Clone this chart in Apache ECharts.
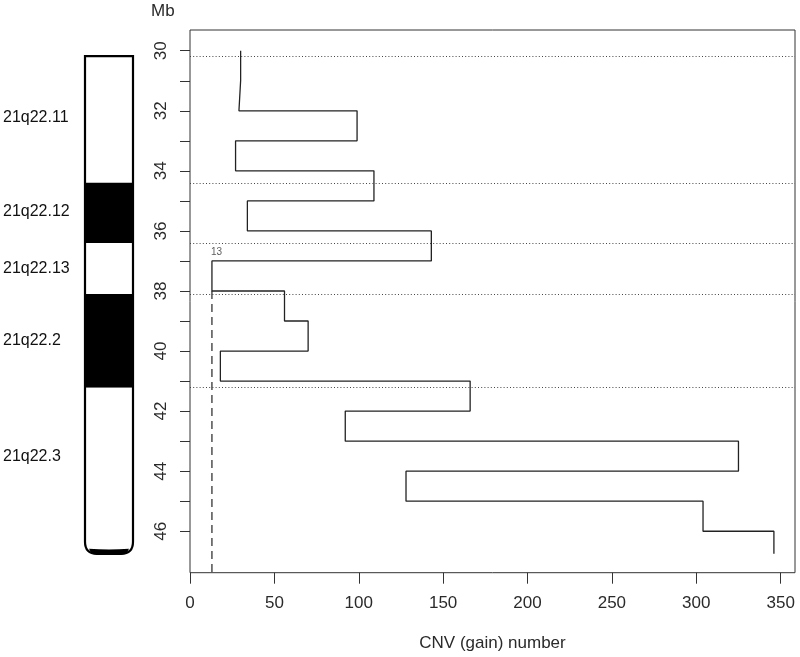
<!DOCTYPE html>
<html>
<head>
<meta charset="utf-8">
<script src="https://cdn.jsdelivr.net/npm/echarts@6/dist/echarts.min.js"></script>
<style>
html,body{margin:0;padding:0;background:#fff;}
#chart{width:800px;height:657px;}
</style>
</head>
<body>
<div id="chart"></div>
<script>
// ---- data ----
const binStarts = [30,31,32,33,34,35,36,37,38,39,40,41,42,43,44,45,46];
const binEnds   = [31,32,33,34,35,36,37,38,39,40,41,42,43,44,45,46,46.75];
const cnvGain   = [30,29,99,27,109,34,143,13,56,70,18,166,92,325,128,304,346];
const threshold = 13;
const thresholdFrom = 38;

const bandNames  = ['21q22.11','21q22.12','21q22.13','21q22.2','21q22.3'];
const bandStarts = [30.18, 34.4, 36.4, 38.1, 41.22];
const bandEnds   = [34.4, 36.4, 38.1, 41.22, 46.75];
const bandStains = ['gneg','gpos','gneg','gpos','gneg'];
const bandLabelAt = [32.24, 35.37, 37.25, 39.64, 43.53];

const xTicks = [0,50,100,150,200,250,300,350];
const yTicks = [30,31,32,33,34,35,36,37,38,39,40,41,42,43,44,45,46];
const yLabels = [30,32,34,36,38,40,42,44,46];

const yMin = 29.31, yMax = 47.38, xMax = 358.5;

// ---- build step path ----
const stepData = [];
for (let i = 0; i < cnvGain.length; i++) {
  stepData.push([cnvGain[i], binStarts[i]]);
  stepData.push([cnvGain[i], binEnds[i]]);
}

const FONT = 'Liberation Sans, Arial, sans-serif';
const TXT = '#2a2a2a';

const chart = echarts.init(document.getElementById('chart'), null, {renderer: 'canvas'});

const option = {
  animation: false,
  backgroundColor: '#fff',
  grid: [
    {left: 190, right: 5, top: 30, bottom: 84.3, show: true, borderColor: '#333', borderWidth: 1, backgroundColor: 'transparent'},
    {left: 85, width: 48, top: 30, bottom: 84.3, show: false}
  ],
  graphic: [
    {type: 'text', left: 151, top: 3, style: {text: 'Mb', font: '17px ' + FONT, fill: TXT}}
  ],
  xAxis: [
    {
      type: 'value', gridIndex: 0, min: 0, max: xMax,
      splitLine: {show: false},
      axisLine: {show: false},
      axisTick: {show: true, length: 11, lineStyle: {color: '#333'}, customValues: xTicks},
      axisLabel: {show: true, margin: 22, fontSize: 17, fontFamily: FONT, color: TXT, customValues: xTicks},
      name: 'CNV (gain) number', nameLocation: 'middle', nameGap: 62,
      nameTextStyle: {fontSize: 17, fontFamily: FONT, color: TXT}
    },
    {type: 'value', gridIndex: 1, min: 0, max: 1, show: false}
  ],
  yAxis: [
    {
      type: 'value', gridIndex: 0, min: yMin, max: yMax, inverse: true,
      splitLine: {show: false},
      axisLine: {show: false},
      axisTick: {show: true, length: 10, lineStyle: {color: '#333'}, customValues: yTicks},
      axisLabel: {show: true, rotate: 90, margin: 20, fontSize: 17, fontFamily: FONT, color: TXT, customValues: yLabels}
    },
    {type: 'value', gridIndex: 1, min: yMin, max: yMax, inverse: true, show: false}
  ],
  series: [
    {
      type: 'line', xAxisIndex: 0, yAxisIndex: 0,
      data: stepData, symbol: 'none', silent: true,
      lineStyle: {color: '#222', width: 1.3},
      markLine: {
        silent: true, symbol: 'none', label: {show: false},
        lineStyle: {color: '#444', width: 1, type: [1, 2.2]},
        data: bandStarts.map(v => ({yAxis: v}))
      },
      z: 3
    },
    {
      type: 'line', xAxisIndex: 0, yAxisIndex: 0,
      data: [[threshold, thresholdFrom], [threshold, yMax]],
      symbol: 'none', silent: true,
      lineStyle: {color: '#222', width: 1.2, type: [8, 5]},
      z: 2
    },
    {
      type: 'scatter', xAxisIndex: 0, yAxisIndex: 0,
      data: [[threshold, binStarts[cnvGain.indexOf(threshold)]]],
      symbolSize: 0, silent: true,
      label: {show: true, formatter: String(threshold), position: [-1, -14], align: 'left', verticalAlign: 'top',
              fontSize: 10, fontFamily: FONT, color: '#333'}
    },
    {
      // chromosome bands
      type: 'custom', xAxisIndex: 1, yAxisIndex: 1, silent: true, clip: false,
      data: bandNames.map((n, i) => [bandStarts[i], bandEnds[i], bandStains[i] === 'gpos' ? 1 : 0, bandLabelAt[i], n]),
      renderItem: function (params, api) {
        const s = api.value(0), e = api.value(1), pos = api.value(2), lab = api.value(3);
        const i = params.dataIndex;
        const p1 = api.coord([0, s]), p2 = api.coord([1, e]);
        const x0 = p1[0], x1 = p2[0], y0 = p1[1], y1 = p2[1];
        const isLast = i === bandNames.length - 1;
        const children = [];
        children.push({
          type: 'rect',
          shape: {x: x0, y: y0, width: x1 - x0, height: y1 - y0, r: isLast ? [0, 0, 11, 11] : 0},
          style: {fill: pos ? '#000' : '#fff', stroke: null}
        });
        const ly = api.coord([0, lab])[1];
        children.push({
          type: 'text',
          style: {text: bandNames[i], x: x0 - 82, y: ly, font: '16px ' + FONT, fill: '#111', textAlign: 'left', textVerticalAlign: 'middle'}
        });
        return {type: 'group', children: children};
      },
      z: 2
    },
    {
      // chromosome outline
      type: 'custom', xAxisIndex: 1, yAxisIndex: 1, silent: true, clip: false,
      data: [[bandStarts[0], bandEnds[bandEnds.length - 1]]],
      renderItem: function (params, api) {
        const p1 = api.coord([0, api.value(0)]), p2 = api.coord([1, api.value(1)]);
        const x0 = p1[0], x1 = p2[0], y0 = p1[1], yb = p2[1];
        const r = 12;
        const d = 'M' + x0 + ',' + y0 + ' L' + x1 + ',' + y0 + ' L' + x1 + ',' + (yb - r) +
                  ' Q' + x1 + ',' + yb + ' ' + (x1 - r) + ',' + yb + ' L' + (x0 + r) + ',' + yb +
                  ' Q' + x0 + ',' + yb + ' ' + x0 + ',' + (yb - r) + ' Z';
        const tel = 'M' + (x0 + 4) + ',' + (yb - 5) + ' Q' + ((x0 + x1) / 2) + ',' + (yb - 3.5) + ' ' + (x1 - 4) + ',' + (yb - 5) +
                    ' Q' + (x1 - 6) + ',' + (yb + 0.5) + ' ' + (x1 - r) + ',' + (yb + 0.8) +
                    ' L' + (x0 + r) + ',' + (yb + 0.8) + ' Q' + (x0 + 6) + ',' + (yb + 0.5) + ' ' + (x0 + 4) + ',' + (yb - 5) + ' Z';
        return {type: 'group', children: [
          {type: 'path', shape: {pathData: d}, style: {fill: null, stroke: '#000', lineWidth: 2.2}},
          {type: 'path', shape: {pathData: tel}, style: {fill: '#000', stroke: null}}
        ]};
      },
      z: 4
    }
  ]
};
chart.setOption(option);
</script>
</body>
</html>
